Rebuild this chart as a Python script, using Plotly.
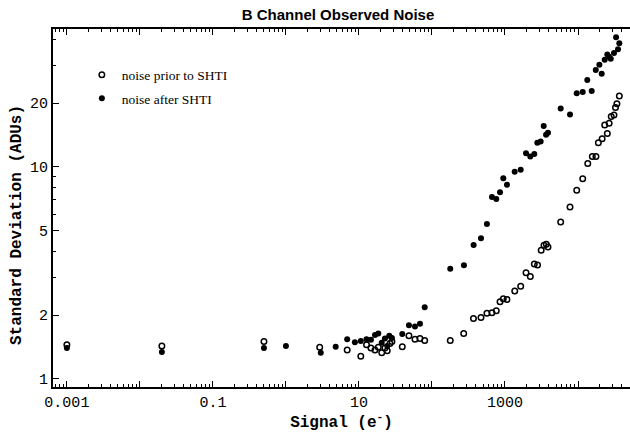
import plotly.graph_objects as go

# noise prior to SHTI (open circles)
prior_signal = [0.001, 0.02, 0.5, 2.9, 6.9, 10.6, 12.7, 14.6, 16.6, 18.4, 20.5, 22.7, 24.4, 26.6, 28.3,
                39.2, 48.4, 58.5, 68.5, 79.5, 178, 272, 370, 469, 566, 663, 760, 855, 948, 1065,
                1360, 1641, 1940, 2222, 2520, 2790, 3130, 3420, 3680, 3880, 5790, 7770, 9600, 11600,
                13600, 15700, 17600, 19000, 21400, 23200, 25200, 26700, 28500, 31100, 32600, 34100, 36800]
prior_std = [1.45, 1.43, 1.50, 1.41, 1.37, 1.28, 1.45, 1.40, 1.37, 1.41, 1.33, 1.40, 1.36, 1.47, 1.50,
             1.42, 1.60, 1.54, 1.55, 1.52, 1.52, 1.64, 1.93, 1.95, 2.04, 2.05, 2.10, 2.31, 2.39, 2.37,
             2.60, 2.74, 3.17, 3.04, 3.49, 3.45, 4.05, 4.27, 4.32, 4.19, 5.50, 6.48, 7.77, 8.79,
             10.4, 11.2, 11.2, 13.0, 13.6, 15.8, 14.4, 16.1, 17.3, 17.6, 19.1, 19.9, 21.6]

# noise after SHTI (filled circles)
after_signal = [0.001, 0.02, 0.5, 1.0, 3.0, 4.8, 6.9, 8.8, 10.6, 12.7, 14.6, 16.6, 18.4, 20.5, 22.7,
                24.4, 26.0, 28.3, 39.2, 48.4, 58.5, 68.5, 79.5, 178, 274, 372, 469, 566, 663, 760,
                855, 948, 1065, 1358, 1641, 1940, 2222, 2520, 2770, 3080, 3390, 3650, 3880, 5790,
                7770, 9600, 11600, 13400, 15400, 17500, 19600, 21100, 23200, 25200, 26600, 28100,
                31100, 33200, 35300, 36800]
after_std = [1.40, 1.34, 1.40, 1.43, 1.33, 1.42, 1.54, 1.49, 1.51, 1.54, 1.53, 1.61, 1.64, 1.48, 1.55,
             1.43, 1.60, 1.56, 1.63, 1.79, 1.77, 1.82, 2.18, 3.31, 3.44, 4.29, 4.61, 5.39, 7.22, 7.06,
             7.60, 8.85, 8.25, 9.50, 9.71, 11.6, 11.2, 11.5, 13.0, 13.2, 15.6, 14.2, 14.5, 18.9,
             17.7, 22.3, 22.6, 25.7, 22.8, 28.7, 30.4, 27.5, 32.1, 33.9, 33.1, 32.4,
             34.5, 40.9, 35.9, 38.3]

x_tickvals = [0.001, 0.01, 0.1, 1, 10, 100, 1000, 10000]
x_ticktext = ["0.001", "", "0.1", "", "10", "", "1000", ""]
y_tickvals = [1, 2, 5, 10, 20]
y_ticktext = ["1", "2", "5", "10", "20"]

fig = go.Figure()
fig.add_trace(go.Scatter(
    x=prior_signal, y=prior_std, mode="markers", name="noise prior to SHTI", legendgroup="a",
    marker=dict(symbol="circle-open", size=5.5, color="black", line=dict(width=1.5, color="black")),
))
fig.add_trace(go.Scatter(
    x=after_signal, y=after_std, mode="markers", name="noise after SHTI", legendgroup="b",
    marker=dict(symbol="circle", size=6, color="black"),
))

tickfont = dict(family="Liberation Mono", size=15, color="black")
fig.update_layout(
    width=630, height=432,
    margin=dict(l=53, r=0, t=29, b=45),
    paper_bgcolor="white", plot_bgcolor="white",
    title=dict(text="<b>B Channel Observed Noise</b>", x=338/630, xref="container", xanchor="center",
               y=1-14.5/432, yref="container", yanchor="middle",
               font=dict(family="Liberation Sans", size=15, color="black")),
    showlegend=True,
    legend=dict(x=0.05, y=0.915, xanchor="left", yanchor="top", bgcolor="rgba(0,0,0,0)",
                traceorder="grouped", tracegroupgap=3,
                font=dict(family="Liberation Serif", size=13.5, color="black")),
    xaxis=dict(
        type="log", range=[-3.19, 4.712],
        tickvals=x_tickvals, ticktext=x_ticktext, tickfont=tickfont,
        ticks="inside", ticklen=6, tickwidth=1, tickcolor="black",
        minor=dict(ticks="inside", ticklen=3, tickcolor="black", dtick="D1", showgrid=False),
        showline=True, linecolor="black", linewidth=2, mirror="ticks",
        showgrid=False, zeroline=False,
        title=dict(text="<b>Signal (e<sup>-</sup>)</b>", font=dict(family="Liberation Mono", size=16, color="black"),
                   standoff=7),
    ),
    yaxis=dict(
        type="log", range=[-0.038, 1.651],
        tickvals=y_tickvals, ticktext=y_ticktext, tickfont=tickfont,
        ticks="inside", ticklen=6, tickwidth=1, tickcolor="black",
        minor=dict(ticks="inside", ticklen=3, tickcolor="black", dtick="D1", showgrid=False),
        showline=True, linecolor="black", linewidth=2, mirror=False,
        showgrid=False, zeroline=False,
    ),
    annotations=[dict(
        text="<b>Standard Deviation (ADUs)</b>", textangle=-90,
        xref="paper", yref="paper", x=(17-53)/577, y=(387-225)/358,
        xanchor="center", yanchor="middle", showarrow=False,
        font=dict(family="Liberation Mono", size=16, color="black"),
    )],
)
fig.write_html("out.html")
